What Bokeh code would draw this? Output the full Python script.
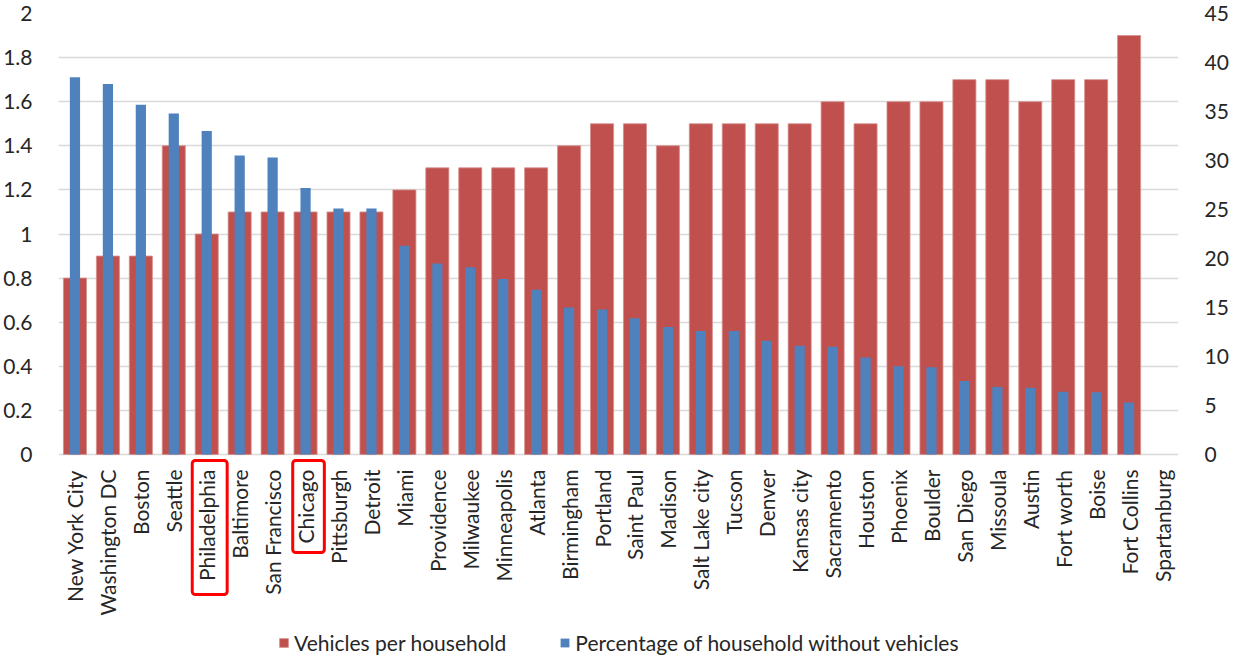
import math
from bokeh.plotting import figure
from bokeh.models import (FactorRange, Range1d, LinearAxis, FixedTicker, ColumnDataSource,
                          Legend, LegendItem, BoxAnnotation, NumeralTickFormatter)
from bokeh.core.properties import value
from bokeh.embed import file_html
from bokeh.resources import INLINE

NAN = float("nan")

cities = ["New York City", "Washington DC", "Boston", "Seattle", "Philadelphia", "Baltimore",
          "San Francisco", "Chicago", "Pittsburgh", "Detroit", "Miami", "Providence",
          "Milwaukee", "Minneapolis", "Atlanta", "Birmingham", "Portland", "Saint Paul",
          "Madison", "Salt Lake city", "Tucson", "Denver", "Kansas city", "Sacramento",
          "Houston", "Phoenix", "Boulder", "San Diego", "Missoula", "Austin", "Fort worth",
          "Boise", "Fort Collins", "Spartanburg"]

vehicles_per_household = [0.8, 0.9, 0.9, 1.4, 1.0, 1.1, 1.1, 1.1, 1.1, 1.1, 1.2, 1.3,
                          1.3, 1.3, 1.3, 1.4, 1.5, 1.5, 1.4, 1.5, 1.5, 1.5, 1.5, 1.6,
                          1.5, 1.6, 1.6, 1.7, 1.7, 1.6, 1.7, 1.7, 1.9, NAN]

pct_without_vehicles = [38.5, 37.8, 35.7, 34.8, 33.0, 30.5, 30.3, 27.2, 25.1, 25.1, 21.3, 19.5,
                        19.1, 17.9, 16.8, 15.0, 14.8, 13.9, 13.0, 12.6, 12.6, 11.6, 11.1, 11.0,
                        9.9, 9.0, 8.9, 7.5, 6.9, 6.8, 6.4, 6.35, 5.3, NAN]

left_ticks = [0, 0.2, 0.4, 0.6, 0.8, 1, 1.2, 1.4, 1.6, 1.8, 2]
left_tick_labels = ["0", "0.2", "0.4", "0.6", "0.8", "1", "1.2", "1.4", "1.6", "1.8", "2"]
right_ticks = [0, 5, 10, 15, 20, 25, 30, 35, 40, 45]
right_tick_labels = ["0", "5", "10", "15", "20", "25", "30", "35", "40", "45"]

series_names = ["Vehicles per household", "Percentage of household without vehicles"]
highlighted = ["Philadelphia", "Chicago"]

RED = "#C0504D"
BLUE = "#4F81BD"
TEXT = "#262626"
FONT = "Lato"
FS = "21px"

# layout (canvas pixels)
W, H = 1231, 655
FRAME_TOP = 13
ZERO_Y = 454
LEFT_MAX, RIGHT_MAX = left_ticks[-1], right_ticks[-1]
ppu_left = (ZERO_Y - FRAME_TOP) / LEFT_MAX      # pixels per unit, left axis
ppu_right = (ZERO_Y - FRAME_TOP) / RIGHT_MAX
below_px = H - ZERO_Y                            # space below the zero line

source = ColumnDataSource(dict(city=cities, veh=vehicles_per_household,
                               pct=pct_without_vehicles, base=[0] * len(cities)))

p = figure(x_range=FactorRange(factors=cities, range_padding=0),
           y_range=Range1d(-below_px / ppu_left, LEFT_MAX),
           width=W, height=H, output_backend="svg", toolbar_location=None,
           x_axis_location=None,
           min_border_left=54, min_border_right=46, min_border_top=FRAME_TOP,
           min_border_bottom=0)
p.extra_y_ranges = {"pct": Range1d(-below_px / ppu_right, RIGHT_MAX)}

r_red = p.vbar(x="city", top="veh", width=0.70, source=source, fill_color=RED,
               line_color="#D58F8D", line_width=0.8)
r_blue = p.vbar(x="city", top="pct", width=0.31, source=source, fill_color=BLUE,
                line_color=None, y_range_name="pct")

# category labels, vertical, just under the zero line
p.text(x="city", y="base", text="city", source=source, angle=math.pi / 2,
       text_align="right", text_baseline="middle", y_offset=15,
       text_font=value(FONT), text_font_size=FS, text_color=TEXT)

p.outline_line_color = None
p.xgrid.grid_line_color = None
p.ygrid.grid_line_color = "#D9D9D9"
p.ygrid.grid_line_width = 1.5
p.ygrid.ticker = FixedTicker(ticks=left_ticks)

ya = p.yaxis[0]
ya.ticker = FixedTicker(ticks=left_ticks)
ya.formatter = NumeralTickFormatter(format="0.[0]")
ya.major_label_overrides = {t: l for t, l in zip(left_ticks, left_tick_labels)}
ra = LinearAxis(y_range_name="pct", ticker=FixedTicker(ticks=right_ticks))
ra.major_label_overrides = {t: l for t, l in zip(right_ticks, right_tick_labels)}
p.add_layout(ra, "right")

for ax in (ya, ra):
    ax.axis_line_color = None
    ax.major_tick_line_color = None
    ax.minor_tick_line_color = None
    ax.major_label_standoff = 20
    ax.major_label_text_font = FONT
    ax.major_label_text_font_size = FS
    ax.major_label_text_color = TEXT

# red boxes around highlighted city labels
box_len_px = {"Philadelphia": 140, "Chicago": 98}
box_half = {"Philadelphia": 0.53, "Chicago": 0.48}
for name in highlighted:
    c = cities.index(name) + 0.5 + 0.09
    p.add_layout(BoxAnnotation(left=c - box_half[name], right=c + box_half[name],
                               top=-6 / ppu_left, bottom=-box_len_px[name] / ppu_left,
                               fill_color=None, line_color="#FF0000", line_alpha=1.0,
                               line_width=3, border_radius=3))

legend = Legend(items=[LegendItem(label=series_names[0], renderers=[r_red]),
                       LegendItem(label=series_names[1], renderers=[r_blue])],
                orientation="horizontal", location=(220, 0), padding=0, margin=0,
                spacing=53, label_standoff=5, glyph_width=11, glyph_height=11,
                label_height=20, border_line_color=None, background_fill_alpha=0,
                label_text_font=FONT, label_text_font_size=FS, label_text_color=TEXT)
p.add_layout(legend)

open("out.html", "w").write(file_html(p, INLINE))
